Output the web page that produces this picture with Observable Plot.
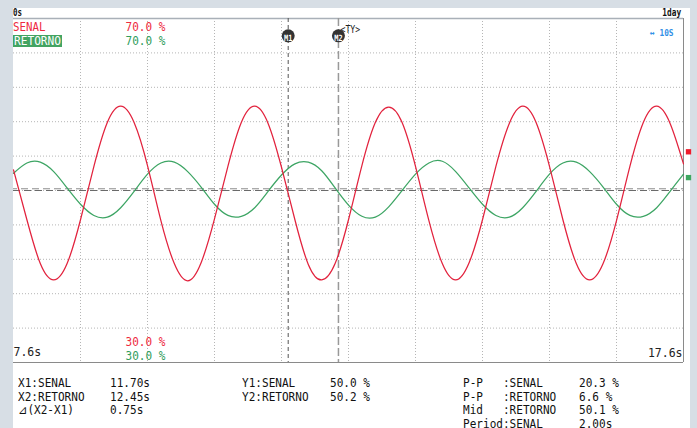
<!DOCTYPE html>
<html>
<head>
<meta charset="utf-8">
<script src="https://cdn.jsdelivr.net/npm/d3@7"></script>
<script src="https://cdn.jsdelivr.net/npm/@observablehq/plot@0.6"></script>
<style>
  html, body { margin: 0; padding: 0; }
  body { width: 697px; height: 428px; overflow: hidden; background: #d7dee5; position: relative; font-family: "DejaVu Sans Mono", monospace; }
  #panel { position: absolute; left: 13px; top: 8px; width: 677px; height: 420px; background: #ffffff; }
  #chart { position: absolute; left: 0; top: 0; }
  .t { position: absolute; white-space: pre; line-height: 1; font-size: 13.5px; transform: scaleX(0.82); transform-origin: left top; color: #111; }
</style>
</head>
<body>
<div id="panel"></div>
<div id="chart"></div>
<div id="overlay"></div>
<script>
// ---- data ----
const time = [7.6, 7.8, 8.0, 8.2, 8.4, 8.6, 8.8, 9.0, 9.2, 9.4,
  9.6, 9.8, 10.0, 10.2, 10.4, 10.6, 10.8, 11.0, 11.2, 11.4,
  11.6, 11.8, 12.0, 12.2, 12.4, 12.6, 12.8, 13.0, 13.2, 13.4,
  13.6, 13.8, 14.0, 14.2, 14.4, 14.6, 14.8, 15.0, 15.2, 15.4,
  15.6, 15.8, 16.0, 16.2, 16.4, 16.6, 16.8, 17.0, 17.2, 17.4, 17.6];
const senal = [52.4, 46.6, 41.5, 39.6, 41.5, 46.6, 52.8, 57.9, 59.8, 57.9,
  52.9, 46.5, 41.5, 39.5, 41.6, 46.7, 52.8, 57.9, 59.8, 57.8,
  52.7, 46.6, 41.4, 39.6, 41.5, 46.6, 52.9, 57.9, 59.7, 57.9,
  52.8, 46.5, 41.5, 39.6, 41.6, 46.6, 52.8, 57.8, 59.8, 57.9,
  52.8, 46.6, 41.5, 39.6, 41.5, 46.5, 52.8, 57.9, 59.8, 57.8, 53.1];
const retorno = [52.0, 53.2, 53.3, 52.2, 50.3, 48.4, 47.1, 46.9, 48.0, 49.9,
  51.9, 53.2, 53.3, 52.2, 50.4, 48.4, 47.1, 47.0, 48.0, 49.9,
  51.8, 53.1, 53.3, 52.3, 50.3, 48.3, 47.0, 46.9, 48.1, 50.0,
  51.9, 53.2, 53.4, 52.2, 50.3, 48.4, 47.1, 46.9, 48.0, 49.9,
  51.9, 53.2, 53.3, 52.2, 50.4, 48.4, 47.1, 47.0, 48.0, 49.9, 51.9];
const xDomain = [7.6, 17.6];
const yDomain = [30, 70];
const gridX = [8.6, 9.6, 10.6, 11.6, 12.6, 13.6, 14.6, 15.6, 16.6];
const gridY = [34, 38, 42, 46, 50, 54, 58, 62, 66];
const cursorX = [11.70, 12.45];
const cursorXNames = ["M1", "M2"];
const cursorY = [50.0, 50.2];
const scaleTop = [70.0, 70.0];
const scaleBottom = [30.0, 30.0];
const xEdgeLabels = [7.6, 17.6];
const markerLevels = [54.5, 51.5];
const seriesNames = ["SENAL", "RETORNO"];
const statsX = [["X1:SENAL", "11.70s"], ["X2:RETORNO", "12.45s"], ["\u22BF(X2-X1)", "0.75s"]];
const statsY = [["Y1:SENAL", "50.0 %"], ["Y2:RETORNO", "50.2 %"]];
const statsM = [["P-P   :SENAL", "20.3 %"], ["P-P   :RETORNO", "6.6 %"], ["Mid   :RETORNO", "50.1 %"], ["Period:SENAL", "2.00s"]];

const RED = "#e2223d", GREEN = "#3da564";
const RED_T = "#ee2a40", GREEN_T = "#2f9d5c";
const FONT = "DejaVu Sans Mono";

const chart = Plot.plot({
  width: 697, height: 428,
  marginLeft: 13, marginRight: 14, marginTop: 18, marginBottom: 66,
  x: {domain: xDomain, axis: null},
  y: {domain: yDomain, axis: null},
  style: {background: "transparent", fontFamily: FONT},
  marks: [
    Plot.ruleX(gridX, {stroke: "#b5b5b5", strokeDasharray: "1,2"}),
    Plot.ruleY(gridY, {stroke: "#b5b5b5", strokeDasharray: "1,2"}),
    Plot.ruleY([yDomain[1]], {stroke: "#a9b0b8", strokeWidth: 1.5}),
    Plot.ruleY([yDomain[0]], {stroke: "#8a8a8a"}),
    Plot.ruleX([xDomain[1]], {stroke: "#8a8a8a"}),
    Plot.ruleY([cursorY[0]], {stroke: "#6a6a6a", strokeDasharray: "7,4"}),
    Plot.ruleY([cursorY[1]], {stroke: "#8c8c8c", strokeDasharray: "7,4", strokeDashoffset: 3}),
    Plot.ruleX([cursorX[0]], {stroke: "#555", strokeDasharray: "4,3"}),
    Plot.ruleX([cursorX[1]], {stroke: "#999", strokeWidth: 1.5, strokeDasharray: "8,3"}),
    Plot.lineY(retorno, {x: time, curve: "natural", stroke: GREEN, strokeWidth: 1.25}),
    Plot.lineY(senal, {x: time, curve: "natural", stroke: RED, strokeWidth: 1.25}),
    Plot.dot([markerLevels[0]], {y: d => d, frameAnchor: "right", dx: 5, symbol: "square", r: 3, fill: "#ee1c2c"}),
    Plot.dot([markerLevels[1]], {y: d => d, frameAnchor: "right", dx: 5, symbol: "square", r: 3, fill: "#3ea860"}),
    Plot.dot(cursorX, {x: d => d, frameAnchor: "top", dy: 17.3, r: 6.5, fill: "#333"}),
    Plot.text(cursorX, {x: d => d, text: (d, i) => cursorXNames[i], frameAnchor: "top", dy: 16.6, fill: "white", fontSize: 8.5, fontWeight: "bold", fontFamily: FONT}),
    Plot.text([cursorX[1]], {x: d => d, text: () => "<TY>", frameAnchor: "top", dy: 7, dx: 2, textAnchor: "start", fill: "#222", fontSize: 10, fontFamily: FONT}),
    Plot.text(["\u2194 10S"], {text: d => d, frameAnchor: "top-right", dx: -10, dy: 10.5, textAnchor: "end", fill: "#3390e6", fontSize: 9.5, fontWeight: "bold", fontFamily: FONT}),
    Plot.text([scaleTop[0]], {y: d => d, text: d => d.toFixed(1) + " %", frameAnchor: "left", dx: 112, dy: 8.9, textAnchor: "start", fill: RED_T, fontSize: 12, fontFamily: FONT}),
    Plot.text([scaleTop[1]], {y: d => d, text: d => d.toFixed(1) + " %", frameAnchor: "left", dx: 112, dy: 23, textAnchor: "start", fill: GREEN_T, fontSize: 12, fontFamily: FONT}),
    Plot.text([scaleBottom[0]], {y: d => d, text: d => d.toFixed(1) + " %", frameAnchor: "left", dx: 112, dy: -20.5, textAnchor: "start", fill: RED_T, fontSize: 12, fontFamily: FONT}),
    Plot.text([scaleBottom[1]], {y: d => d, text: d => d.toFixed(1) + " %", frameAnchor: "left", dx: 112, dy: -6.4, textAnchor: "start", fill: GREEN_T, fontSize: 12, fontFamily: FONT}),
    Plot.text([xEdgeLabels[0]], {x: d => d, text: d => d.toFixed(1) + "s", frameAnchor: "bottom", dy: -6.2, textAnchor: "start", fill: "#222", fontSize: 12.5, fontFamily: FONT}),
    Plot.text([xEdgeLabels[1]], {x: d => d, text: d => d.toFixed(1) + "s", frameAnchor: "bottom", dx: -1, dy: -5.5, textAnchor: "end", fill: "#222", fontSize: 12.5, fontFamily: FONT})
  ]
});
chart.querySelectorAll("text").forEach(t => {
  const g = t.closest("[font-size]");
  const fs = g ? parseFloat(g.getAttribute("font-size")) : 10;
  const sx = fs >= 11 ? 0.92 : 0.82;
  t.setAttribute("transform", (t.getAttribute("transform") || "") + ` scale(${sx},1)`);
});
document.getElementById("chart").appendChild(chart);

// ---- HTML header, legend and readouts ----
const ov = document.getElementById("overlay");
function label(text, x, baseline, opts = {}) {
  const s = document.createElement("div");
  s.className = "t";
  s.textContent = text;
  const fs = opts.fs || 13.5;
  s.style.fontSize = fs + "px";
  s.style.top = (baseline - 0.846 * fs) + "px";
  if (opts.right != null) {
    s.style.right = opts.right + "px";
    s.style.transformOrigin = "right top";
  } else {
    s.style.left = x + "px";
  }
  if (opts.color) s.style.color = opts.color;
  if (opts.bold) s.style.fontWeight = "bold";
  if (opts.sx) s.style.transform = "scaleX(" + opts.sx + ")";
  ov.appendChild(s);
  return s;
}
label("0s", 13, 16, {fs: 9.6, bold: true, sx: 0.78});
label("1day", 0, 16, {fs: 10, bold: true, right: 16, sx: 0.78});

label(seriesNames[0], 13, 31.0, {color: RED_T, fs: 12.4, sx: 0.87});
const box = document.createElement("div");
box.style.cssText = "position:absolute;left:13px;top:35px;width:49px;height:11.5px;background:#43a462;";
ov.appendChild(box);
label(seriesNames[1], 14, 45.8, {color: "#ffffff", fs: 12.4, sx: 0.9});

const rows = [387.8, 401.6, 415.4, 429.2];
const st = {fs: 11.8, sx: 0.9375};
statsX.forEach((r, i) => { label(r[0], 18, rows[i], st); label(r[1], 110, rows[i], st); });
statsY.forEach((r, i) => { label(r[0], 242, rows[i], st); label(r[1], 330, rows[i], st); });
statsM.forEach((r, i) => { label(r[0], 463, rows[i], st); label(r[1], 579, rows[i], st); });
</script>
</body>
</html>
